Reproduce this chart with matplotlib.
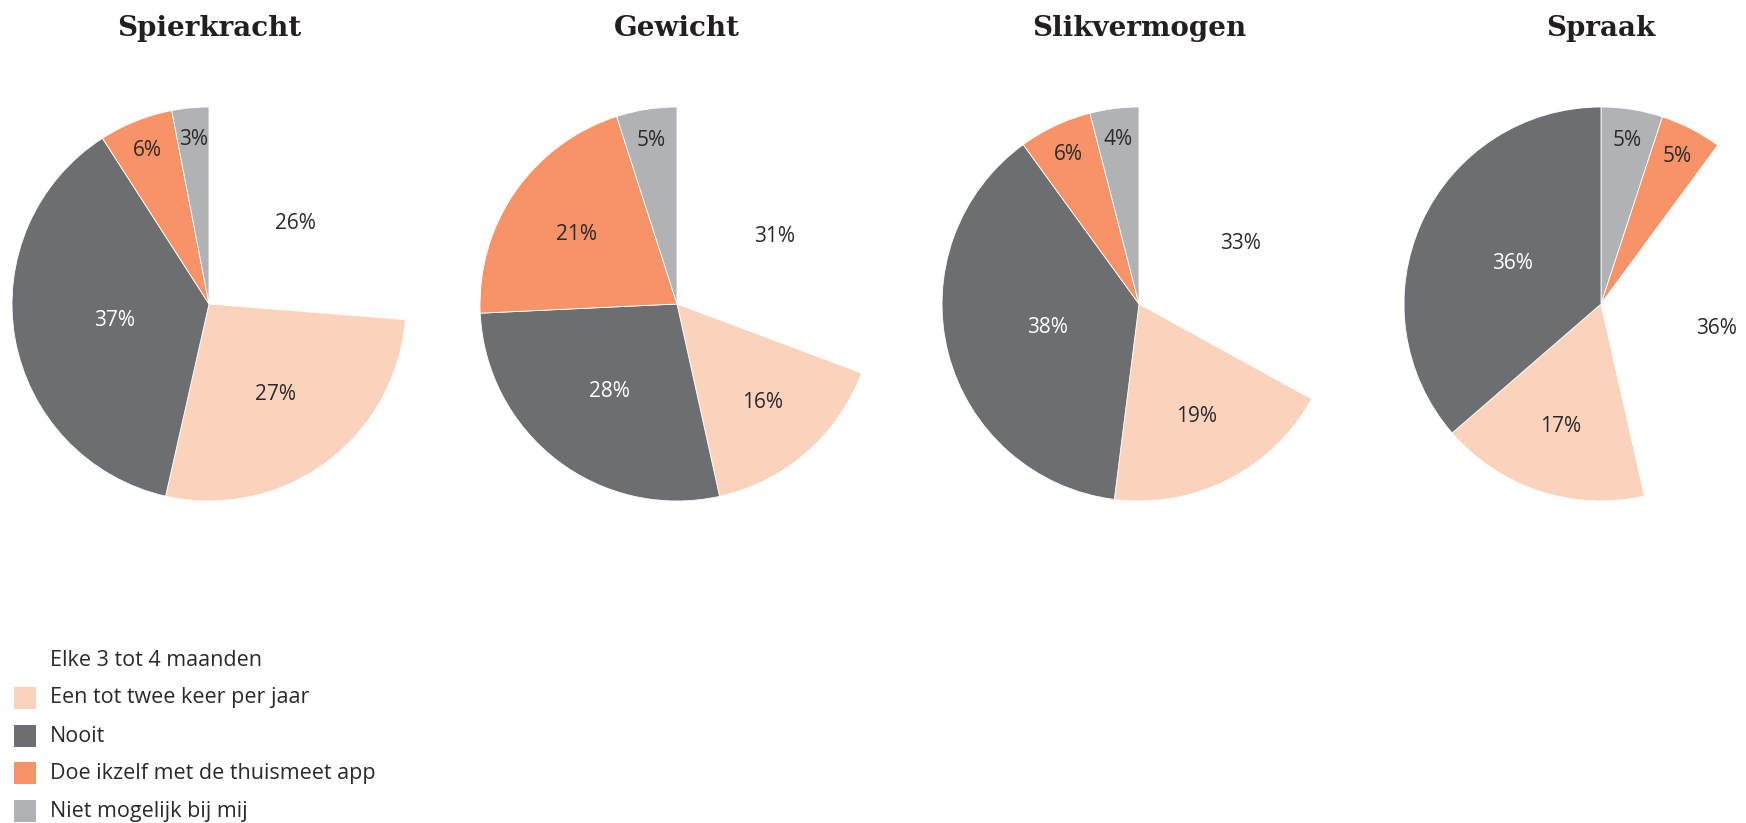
import numpy as np
import matplotlib.pyplot as plt

# data
titles = ['Spierkracht', 'Gewicht', 'Slikvermogen', 'Spraak']
categories = ['Elke 3 tot 4 maanden', 'Een tot twee keer per jaar', 'Nooit',
              'Doe ikzelf met de thuismeet app', 'Niet mogelijk bij mij']
spierkracht = [26, 27, 37, 6, 3]
gewicht = [31, 16, 28, 21, 5]
slikvermogen = [33, 19, 38, 6, 4]
spraak = [36, 17, 36, 5, 5]
# order of the slices clockwise from 12 o'clock (Spraak is drawn differently)
slice_order = [[0, 1, 2, 3, 4], [0, 1, 2, 3, 4], [0, 1, 2, 3, 4], [4, 3, 0, 1, 2]]

colors = ['#ffffff', '#fbd3bd', '#6d6e71', '#f79367', '#b1b2b5']
text_dark = '#2b2a2b'
label_colors = [text_dark, text_dark, '#ffffff', text_dark, text_dark]

W, H = 1746, 823
fig = plt.figure(figsize=(W / 100, H / 100), dpi=100)
fig.patch.set_facecolor('white')

centers_x = [209, 677, 1139, 1601]
cy = 304
R = 197

for i, vals in enumerate([spierkracht, gewicht, slikvermogen, spraak]):
    cx = centers_x[i]
    ax = fig.add_axes([(cx - R) / W, 1 - (cy + R) / H, 2 * R / W, 2 * R / H])
    order = slice_order[i]
    v = [vals[k] for k in order]
    c = [colors[k] for k in order]
    wedges, _ = ax.pie(v, colors=c, startangle=90, counterclock=False,
                       radius=1, wedgeprops=dict(edgecolor='white', linewidth=0.6))
    for w, k in zip(wedges, order):
        mid = np.deg2rad((w.theta1 + w.theta2) / 2)
        # small slices get their label near the rim, big ones nearer the centre
        d = 0.84 if vals[k] < 8 else min(0.66, 0.8 - 0.0085 * vals[k])
        if k == 0:
            d = 0.6
        ax.text(d * np.cos(mid), d * np.sin(mid), f'{vals[k]}%',
                ha='center', va='center', fontsize=15, family='Open Sans',
                color=label_colors[k])
    ax.set_xlim(-1, 1)
    ax.set_ylim(-1, 1)
    ax.set_aspect('equal')
    ax.axis('off')
    fig.text(cx / W, 1 - 29 / H, titles[i], ha='center', va='center',
             fontsize=20, fontweight='bold', family='DejaVu Serif', color='#231f20')

# legend
rows_y = [661, 698, 736, 773, 811]
for k, name in enumerate(categories):
    y = rows_y[k]
    if k > 0:
        fig.patches.append(plt.Rectangle((14 / W, 1 - (y + 11) / H), 22 / W, 22 / H,
                                         transform=fig.transFigure, facecolor=colors[k],
                                         edgecolor='none'))
    fig.text(50 / W, 1 - y / H, name, ha='left', va='center', fontsize=15.5,
             family='Open Sans', color=text_dark)

fig.savefig('out.png', dpi=100)
